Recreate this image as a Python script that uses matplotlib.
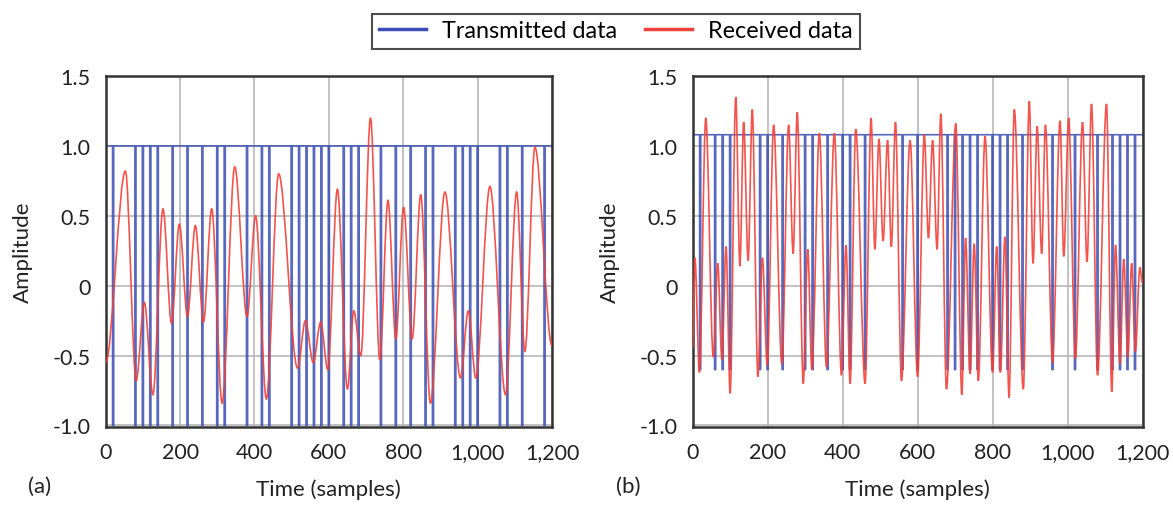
import numpy as np
import matplotlib
matplotlib.use("Agg")
import matplotlib.pyplot as plt
from matplotlib.path import Path
from matplotlib.patches import PathPatch
from matplotlib.lines import Line2D

plt.rcParams['font.family'] = ['Lato', 'DejaVu Sans']

# transmitted data: sample indices where the symbol dips to the low level
dips_a = [20, 80, 100, 120, 140, 180, 220, 260, 300, 320, 380, 420, 440, 500, 520,
          540, 560, 580, 600, 640, 660, 680, 740, 780, 820, 860, 880, 940, 960, 980,
          1000, 1060, 1080, 1120, 1180]
high_a, low_a = 1.0, -1.0

dips_b = [20, 60, 80, 100, 180, 200, 240, 300, 320, 360, 400, 420, 460, 560, 600,
          680, 700, 720, 740, 760, 800, 820, 840, 880, 960, 1020, 1080, 1120, 1140,
          1160, 1180]
high_b, low_b = 1.08, -0.6

# received data: turning points of the received waveform (time, amplitude)
rx_t_a = [0, 53, 82, 104, 127, 154, 177, 198, 220, 241, 263, 285, 313, 347, 380,
          403, 432, 465, 516, 537, 558, 578, 597, 623, 650, 667, 686, 712, 737, 759,
          780, 801, 824, 847, 873, 912, 954, 975, 995, 1033, 1075, 1105, 1127, 1154,
          1200]
rx_v_a = [-0.55, 0.82, -0.68, -0.12, -0.78, 0.55, -0.27, 0.44, -0.22, 0.43, -0.26,
          0.55, -0.84, 0.85, -0.22, 0.50, -0.81, 0.80, -0.59, -0.25, -0.55, -0.26,
          -0.60, 0.69, -0.74, -0.18, -0.50, 1.20, -0.53, 0.61, -0.38, 0.56, -0.38,
          0.65, -0.84, 0.67, -0.66, -0.18, -0.66, 0.71, -0.78, 0.67, -0.47, 0.99,
          -0.43]

rx_t_b = [0, 6, 18, 35, 55, 67, 78, 89, 100, 115, 126, 136, 148, 159, 174, 186, 199,
          216, 238, 256, 268, 279, 295, 307, 318, 338, 357, 378, 397, 409, 420, 435,
          460, 476, 486, 497, 508, 520, 530, 541, 557, 580, 600, 618, 629, 640, 652,
          662, 677, 702, 718, 728, 740, 751, 762, 780, 800, 811, 821, 833, 844, 858,
          882, 898, 908, 919, 931, 941, 960, 980, 990, 1003, 1021, 1040, 1052, 1064,
          1080, 1104, 1118, 1128, 1140, 1150, 1161, 1171, 1181, 1193, 1200]
rx_v_b = [-0.45, 0.20, -0.62, 1.20, -0.51, 0.16, -0.53, 0.28, -0.77, 1.35, 0.14,
          1.17, 0.18, 1.26, -0.65, 0.20, -0.57, 1.15, -0.56, 1.15, 0.23, 1.24, -0.70,
          0.26, -0.60, 1.09, -0.58, 1.09, -0.64, 0.29, -0.70, 1.12, -0.70, 1.20, 0.26,
          1.05, 0.32, 1.04, 0.28, 1.17, -0.68, 1.04, -0.65, 1.08, 0.34, 1.04, 0.26,
          1.23, -0.74, 1.16, -0.78, 0.34, -0.63, 0.30, -0.68, 1.07, -0.62, 0.28, -0.62,
          0.35, -0.80, 1.26, -0.74, 1.32, 0.16, 1.14, 0.23, 1.15, -0.55, 1.18, 0.21,
          1.20, -0.52, 1.17, 0.17, 1.30, -0.64, 1.30, -0.76, 0.29, -0.56, 0.19, -0.51,
          0.16, -0.47, 0.13, 0.02]

x_ticks = [0, 200, 400, 600, 800, 1000, 1200]
x_tick_labels = ['0', '200', '400', '600', '800', '1,000', '1,200']
y_ticks = [1.5, 1.0, 0.5, 0, -0.5, -1.0]
y_tick_labels = ['1.5', '1.0', '0.5', '0', '-0.5', '-1.0']

BLUE = '#3a4db3'
RED = '#f2413a'


def smooth_path(ts, vs):
    # cubic segments with flat tangents at every turning point
    verts = [(ts[0], vs[0])]
    codes = [Path.MOVETO]
    for i in range(1, len(ts)):
        d = (ts[i] - ts[i - 1]) / 3.0
        verts += [(ts[i - 1] + d, vs[i - 1]), (ts[i] - d, vs[i]), (ts[i], vs[i])]
        codes += [Path.CURVE4] * 3
    return Path(verts, codes)


def draw_panel(ax, dips, high, low, rx_t, rx_v):
    t = np.arange(0, 1201)
    tx = np.full(t.shape, high)
    for d in dips:
        tx[d - 1:d + 2] = low
    ax.step(t, tx, where='mid', color=BLUE, lw=1.2, alpha=0.85, zorder=2)
    ax.add_patch(PathPatch(smooth_path(rx_t, rx_v), facecolor='none',
                           edgecolor=RED, lw=1.2, alpha=0.9, zorder=3))
    ax.set_xlim(0, 1200)
    ax.set_ylim(-1.01, 1.5)
    ax.set_xticks(x_ticks)
    ax.set_xticklabels(x_tick_labels)
    ax.set_yticks(y_ticks)
    ax.set_yticklabels(y_tick_labels)
    ax.tick_params(length=0, labelsize=15.5, pad=11, colors='#222222')
    ax.grid(True, color='#b8b8b8', lw=1.2, zorder=0)
    ax.set_axisbelow(True)
    for s in ax.spines.values():
        s.set_linewidth(1.8)
        s.set_color('#333333')
    ax.set_xlabel('Time (samples)', fontsize=16, color='#222222', labelpad=12)
    ax.set_ylabel('Amplitude', fontsize=16, color='#222222', labelpad=14)


fig = plt.figure(figsize=(11.73, 5.1), dpi=100)
ax1 = fig.add_axes([0.0901, 0.161, 0.3805, 0.688])
ax2 = fig.add_axes([0.5905, 0.161, 0.3835, 0.688])
draw_panel(ax1, dips_a, high_a, low_a, rx_t_a, rx_v_a)
draw_panel(ax2, dips_b, high_b, low_b, rx_t_b, rx_v_b)

fig.text(40 / 1173, 1 - 487 / 510, '(a)', fontsize=16, ha='center', va='center', color='#222222')
fig.text(628 / 1173, 1 - 487 / 510, '(b)', fontsize=16, ha='center', va='center', color='#222222')

handles = [Line2D([], [], color=BLUE, lw=2.5), Line2D([], [], color=RED, lw=2.5)]
leg = fig.legend(handles, ['Transmitted data', 'Received data'], loc='center',
                 bbox_to_anchor=(616 / 1173, 1 - 32 / 510), ncol=2, fontsize=16.8,
                 frameon=True, fancybox=False, handlelength=2.0, columnspacing=1.2,
                 handletextpad=0.7, borderpad=0.3)
leg.get_frame().set_edgecolor('#222222')
leg.get_frame().set_linewidth(1.5)

fig.savefig('out.png', dpi=100)
